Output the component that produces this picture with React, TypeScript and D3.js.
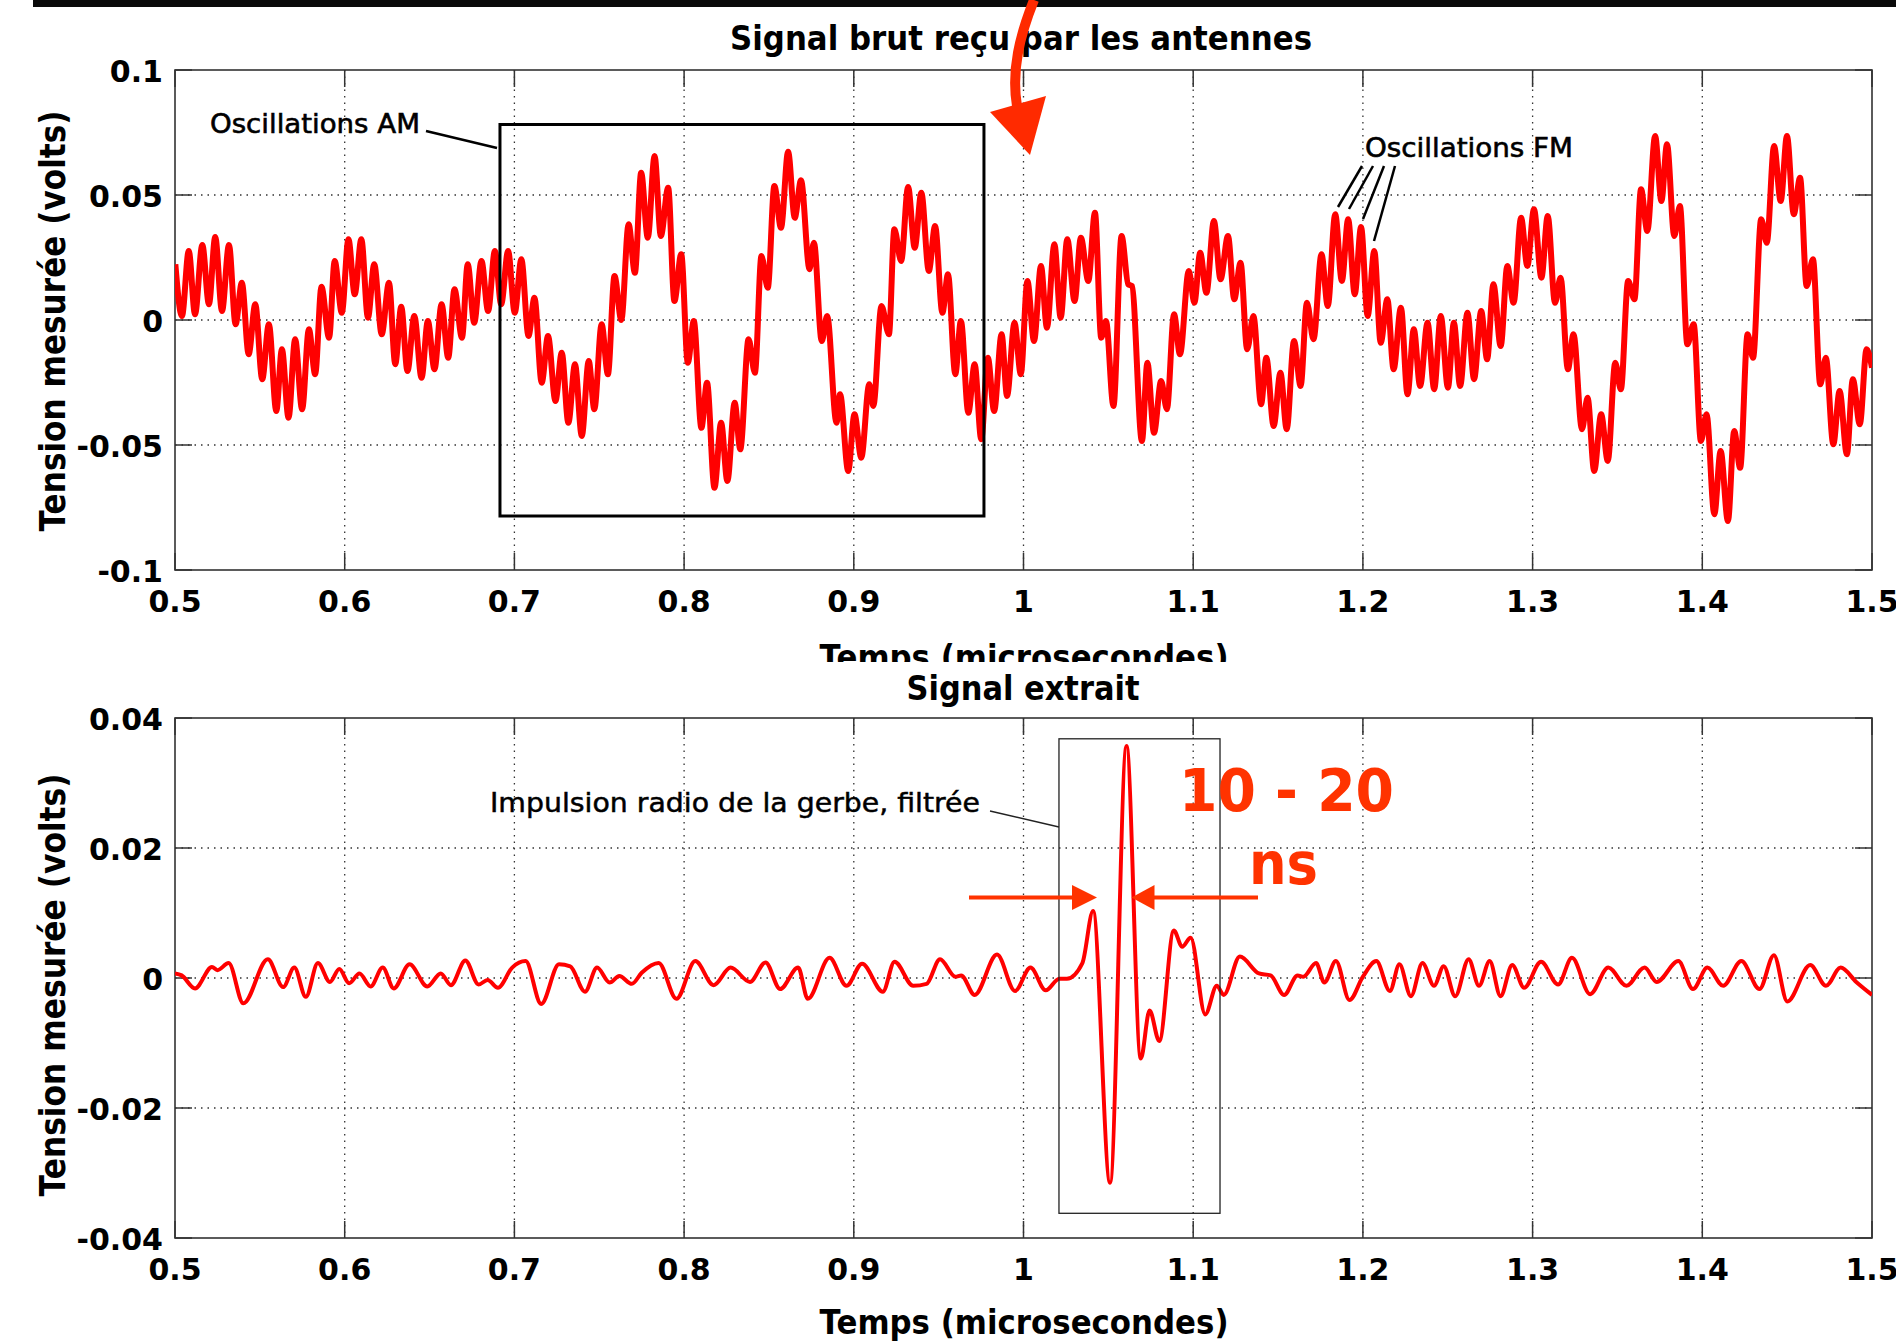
import React from 'react';
import * as d3 from 'd3';

// ---------- data ----------
const xTicks = [0.5, 0.6, 0.7, 0.8, 0.9, 1.0, 1.1, 1.2, 1.3, 1.4, 1.5];
const xTickLabels = ['0.5', '0.6', '0.7', '0.8', '0.9', '1', '1.1', '1.2', '1.3', '1.4', '1.5'];
const rawYTicks = [-0.1, -0.05, 0, 0.05, 0.1];
const rawYTickLabels = ['-0.1', '-0.05', '0', '0.05', '0.1'];
const extYTicks = [-0.04, -0.02, 0, 0.02, 0.04];
const extYTickLabels = ['-0.04', '-0.02', '0', '0.02', '0.04'];

// raw signal received by the antennas (time in µs, volts) — local extrema
const rawSignal: [number, number][] = [
  [0.5002, 0.0223], [0.5041, 0.0016], [0.5081, 0.0276], [0.5118, 0.0023], [0.5161, 0.0300], [0.5200, 0.0063],
  [0.5237, 0.0332], [0.5277, 0.0036], [0.5318, 0.0300], [0.5357, -0.0017], [0.5394, 0.0149], [0.5434, -0.0137],
  [0.5473, 0.0063], [0.5514, -0.0237], [0.5553, -0.0017], [0.5597, -0.0364], [0.5630, -0.0117], [0.5669, -0.0391],
  [0.5708, -0.0077], [0.5749, -0.0357], [0.5789, -0.0037], [0.5826, -0.0217], [0.5863, 0.0133], [0.5908, -0.0071],
  [0.5941, 0.0236], [0.5983, 0.0029], [0.6022, 0.0323], [0.6059, 0.0103], [0.6098, 0.0323], [0.6137, 0.0009],
  [0.6174, 0.0223], [0.6218, -0.0057], [0.6261, 0.0149], [0.6298, -0.0177], [0.6333, 0.0053], [0.6370, -0.0204],
  [0.6410, 0.0016], [0.6453, -0.0231], [0.6490, -0.0004], [0.6529, -0.0197], [0.6571, 0.0063], [0.6610, -0.0151],
  [0.6647, 0.0123], [0.6691, -0.0071], [0.6725, 0.0223], [0.6763, -0.0011], [0.6806, 0.0236], [0.6845, 0.0036],
  [0.6885, 0.0276], [0.6922, 0.0063], [0.6963, 0.0276], [0.7002, 0.0029], [0.7041, 0.0243], [0.7083, -0.0064],
  [0.7118, 0.0089], [0.7161, -0.0251], [0.7198, -0.0064], [0.7242, -0.0324], [0.7279, -0.0131], [0.7318, -0.0411],
  [0.7357, -0.0177], [0.7397, -0.0464], [0.7438, -0.0164], [0.7471, -0.0357], [0.7514, -0.0017], [0.7551, -0.0217],
  [0.7590, 0.0176], [0.7630, 0.0000], [0.7673, 0.0383], [0.7710, 0.0189], [0.7747, 0.0589], [0.7786, 0.0329],
  [0.7826, 0.0656], [0.7863, 0.0336], [0.7906, 0.0529], [0.7943, 0.0076], [0.7983, 0.0263], [0.8022, -0.0171],
  [0.8057, -0.0004], [0.8102, -0.0431], [0.8135, -0.0251], [0.8179, -0.0671], [0.8218, -0.0411], [0.8255, -0.0644],
  [0.8298, -0.0331], [0.8331, -0.0517], [0.8380, -0.0077], [0.8417, -0.0211], [0.8456, 0.0256], [0.8493, 0.0129],
  [0.8532, 0.0536], [0.8571, 0.0369], [0.8613, 0.0673], [0.8652, 0.0409], [0.8689, 0.0559], [0.8739, 0.0203],
  [0.8765, 0.0309], [0.8811, -0.0084], [0.8843, 0.0016], [0.8898, -0.0411], [0.8919, -0.0297], [0.8967, -0.0604],
  [0.9004, -0.0377], [0.9044, -0.0551], [0.9091, -0.0257], [0.9115, -0.0344], [0.9163, 0.0056], [0.9207, -0.0057],
  [0.9239, 0.0363], [0.9279, 0.0236], [0.9320, 0.0532], [0.9359, 0.0289], [0.9398, 0.0509], [0.9442, 0.0196],
  [0.9479, 0.0376], [0.9522, 0.0029], [0.9555, 0.0183], [0.9598, -0.0217], [0.9631, -0.0004], [0.9675, -0.0371],
  [0.9712, -0.0177], [0.9751, -0.0477], [0.9790, -0.0151], [0.9827, -0.0364], [0.9871, -0.0057], [0.9903, -0.0304],
  [0.9947, -0.0011], [0.9984, -0.0217], [1.0023, 0.0156], [1.0062, -0.0084], [1.0103, 0.0216], [1.0138, -0.0031],
  [1.0182, 0.0303], [1.0219, 0.0009], [1.0258, 0.0323], [1.0301, 0.0076], [1.0338, 0.0329], [1.0382, 0.0156],
  [1.0421, 0.0429], [1.0458, -0.0071], [1.0486, -0.0004], [1.0530, -0.0344], [1.0578, 0.0336], [1.0617, 0.0143],
  [1.0639, 0.0136], [1.0698, -0.0484], [1.0730, -0.0171], [1.0769, -0.0451], [1.0811, -0.0244], [1.0845, -0.0357],
  [1.0887, 0.0023], [1.0922, -0.0137], [1.0974, 0.0196], [1.1007, 0.0069], [1.1041, 0.0269], [1.1078, 0.0109],
  [1.1122, 0.0396], [1.1161, 0.0163], [1.1205, 0.0336], [1.1242, 0.0083], [1.1279, 0.0229], [1.1318, -0.0117],
  [1.1355, 0.0016], [1.1400, -0.0337], [1.1431, -0.0151], [1.1474, -0.0424], [1.1514, -0.0211], [1.1551, -0.0437],
  [1.1594, -0.0084], [1.1633, -0.0264], [1.1670, 0.0069], [1.1709, -0.0077], [1.1756, 0.0263], [1.1793, 0.0056],
  [1.1837, 0.0423], [1.1876, 0.0156], [1.1913, 0.0403], [1.1952, 0.0103], [1.1989, 0.0372], [1.2028, 0.0016],
  [1.2067, 0.0276], [1.2105, -0.0091], [1.2144, 0.0083], [1.2181, -0.0197], [1.2224, 0.0049], [1.2263, -0.0297],
  [1.2300, -0.0037], [1.2337, -0.0264], [1.2381, -0.0011], [1.2420, -0.0277], [1.2459, 0.0016], [1.2501, -0.0271],
  [1.2536, -0.0011], [1.2573, -0.0264], [1.2616, 0.0029], [1.2655, -0.0237], [1.2697, 0.0036], [1.2732, -0.0157],
  [1.2769, 0.0143], [1.2812, -0.0104], [1.2851, 0.0216], [1.2888, 0.0069], [1.2932, 0.0409], [1.2969, 0.0216],
  [1.3008, 0.0443], [1.3052, 0.0169], [1.3089, 0.0416], [1.3132, 0.0069], [1.3165, 0.0169], [1.3208, -0.0197],
  [1.3241, -0.0057], [1.3291, -0.0437], [1.3324, -0.0311], [1.3363, -0.0604], [1.3404, -0.0377], [1.3443, -0.0564],
  [1.3487, -0.0171], [1.3520, -0.0277], [1.3563, 0.0156], [1.3600, 0.0083], [1.3639, 0.0523], [1.3676, 0.0356],
  [1.3722, 0.0736], [1.3759, 0.0476], [1.3792, 0.0703], [1.3835, 0.0336], [1.3868, 0.0456], [1.3912, -0.0097],
  [1.3949, -0.0017], [1.3992, -0.0484], [1.4025, -0.0377], [1.4071, -0.0777], [1.4108, -0.0524], [1.4151, -0.0804],
  [1.4188, -0.0444], [1.4223, -0.0591], [1.4267, -0.0057], [1.4299, -0.0151], [1.4347, 0.0403], [1.4380, 0.0309],
  [1.4423, 0.0696], [1.4462, 0.0476], [1.4499, 0.0736], [1.4539, 0.0423], [1.4576, 0.0569], [1.4615, 0.0136],
  [1.4652, 0.0243], [1.4695, -0.0257], [1.4728, -0.0151], [1.4772, -0.0497], [1.4809, -0.0284], [1.4852, -0.0537],
  [1.4887, -0.0237], [1.4928, -0.0417], [1.4968, -0.0117], [1.5000, -0.0191],
];

// extracted (filtered) signal
const extractedSignal: [number, number][] = [
  [0.5000, 0.0007], [0.5039, 0.0004], [0.5118, -0.0016], [0.5218, 0.0017], [0.5250, 0.0012], [0.5316, 0.0023],
  [0.5403, -0.0039], [0.5547, 0.0029], [0.5637, -0.0014], [0.5703, 0.0016], [0.5771, -0.0029], [0.5842, 0.0023],
  [0.5913, -0.0006], [0.5968, 0.0014], [0.6026, -0.0008], [0.6087, 0.0007], [0.6153, -0.0013], [0.6224, 0.0016],
  [0.6289, -0.0016], [0.6382, 0.0021], [0.6487, -0.0013], [0.6566, 0.0007], [0.6626, -0.0011], [0.6711, 0.0027],
  [0.6789, -0.0010], [0.6842, -0.0003], [0.6903, -0.0015], [0.6987, 0.0016], [0.7066, 0.0026], [0.7158, -0.0040],
  [0.7263, 0.0021], [0.7329, 0.0018], [0.7416, -0.0021], [0.7487, 0.0016], [0.7561, -0.0007], [0.7618, 0.0003],
  [0.7692, -0.0009], [0.7750, 0.0008], [0.7850, 0.0023], [0.7955, -0.0032], [0.8066, 0.0026], [0.8174, -0.0011],
  [0.8274, 0.0016], [0.8388, -0.0006], [0.8480, 0.0024], [0.8566, -0.0017], [0.8672, 0.0016], [0.8729, -0.0032],
  [0.8857, 0.0031], [0.8957, -0.0012], [0.9049, 0.0022], [0.9171, -0.0021], [0.9240, 0.0025], [0.9350, -0.0012],
  [0.9429, -0.0009], [0.9508, 0.0029], [0.9599, 0.0002], [0.9633, 0.0004], [0.9712, -0.0026], [0.9844, 0.0036],
  [0.9950, -0.0020], [1.0041, 0.0016], [1.0131, -0.0019], [1.0211, -0.0001], [1.0256, -0.0001], [1.0347, 0.0023],
  [1.0410, 0.0103], [1.0510, -0.0315], [1.0607, 0.0357], [1.0691, -0.0124], [1.0743, -0.0050], [1.0800, -0.0097],
  [1.0886, 0.0073], [1.0935, 0.0048], [1.0985, 0.0062], [1.1071, -0.0056], [1.1139, -0.0012], [1.1180, -0.0026],
  [1.1275, 0.0033], [1.1388, 0.0007], [1.1456, 0.0004], [1.1536, -0.0026], [1.1615, 0.0004], [1.1649, 0.0002],
  [1.1724, 0.0023], [1.1773, -0.0007], [1.1841, 0.0026], [1.1921, -0.0034], [1.2000, 0.0002], [1.2079, 0.0026],
  [1.2159, -0.0020], [1.2215, 0.0021], [1.2283, -0.0028], [1.2351, 0.0023], [1.2419, -0.0012], [1.2476, 0.0018],
  [1.2544, -0.0028], [1.2623, 0.0029], [1.2684, -0.0012], [1.2747, 0.0026], [1.2811, -0.0028], [1.2880, 0.0020],
  [1.2950, -0.0015], [1.3050, 0.0025], [1.3150, -0.0010], [1.3232, 0.0031], [1.3339, -0.0025], [1.3446, 0.0016],
  [1.3553, -0.0012], [1.3660, 0.0016], [1.3731, -0.0006], [1.3859, 0.0026], [1.3945, -0.0017], [1.4030, 0.0016],
  [1.4123, -0.0012], [1.4230, 0.0026], [1.4337, -0.0017], [1.4422, 0.0035], [1.4501, -0.0036], [1.4636, 0.0020],
  [1.4729, -0.0012], [1.4815, 0.0016], [1.4907, -0.0006], [1.5000, -0.0026],
];

// annotation regions (data coordinates)
const amBox = [0.6915, 0.9767, -0.0784, 0.0782];
const pulseBox = [1.0209, 1.1158, -0.0362, 0.0368];

// ---------- layout ----------
const W = 1896;
const H = 1343;
const FONT = "'DejaVu Sans', Verdana, sans-serif";
const RED = '#ff0000';
const ANNOT_RED = '#ff3300';

const x = d3.scaleLinear().domain([0.5, 1.5]).range([175, 1872]);
const yRaw = d3.scaleLinear().domain([-0.1, 0.1]).range([570, 70]);
const yExt = d3.scaleLinear().domain([-0.04, 0.04]).range([1238, 718]);

type PanelProps = {
  y: d3.ScaleLinear<number, number>;
  yTicks: number[];
  yLabels: string[];
  data: [number, number][];
  lineWidth: number;
};

function Panel({ y, yTicks, yLabels, data, lineWidth }: PanelProps) {
  const [x0, x1] = x.range();
  const [yb, yt] = y.range();
  const tickLen = 17;
  const line = d3
    .line<[number, number]>()
    .x((d) => x(d[0]))
    .y((d) => y(d[1]))
    .curve(d3.curveMonotoneX);
  const clipId = `clip-${Math.round(yt)}`;
  return (
    <g>
      <defs>
        <clipPath id={clipId}>
          <rect x={x0} y={yt} width={x1 - x0} height={yb - yt} />
        </clipPath>
      </defs>
      {/* grid */}
      <g stroke="#333" strokeWidth={1.3} strokeDasharray="1.5 5">
        {xTicks.slice(1, -1).map((t) => (
          <line key={'gx' + t} x1={x(t)} x2={x(t)} y1={yt} y2={yb} />
        ))}
        {yTicks.slice(1, -1).map((v) => (
          <line key={'gy' + v} x1={x0} x2={x1} y1={y(v)} y2={y(v)} />
        ))}
      </g>
      {/* ticks inside on all four sides */}
      <g stroke="#333" strokeWidth={1.5}>
        {xTicks.map((t) => (
          <g key={'tx' + t}>
            <line x1={x(t)} x2={x(t)} y1={yb} y2={yb - tickLen} />
            <line x1={x(t)} x2={x(t)} y1={yt} y2={yt + tickLen} />
          </g>
        ))}
        {yTicks.map((v) => (
          <g key={'ty' + v}>
            <line x1={x0} x2={x0 + tickLen} y1={y(v)} y2={y(v)} />
            <line x1={x1} x2={x1 - tickLen} y1={y(v)} y2={y(v)} />
          </g>
        ))}
      </g>
      <rect x={x0} y={yt} width={x1 - x0} height={yb - yt} fill="none" stroke="#333" strokeWidth={1.6} />
      {/* signal */}
      <path
        d={line(data) || ''}
        fill="none"
        stroke={RED}
        strokeWidth={lineWidth}
        strokeLinejoin="round"
        clipPath={`url(#${clipId})`}
      />
      {/* tick labels */}
      <g fontFamily={FONT} fontWeight="bold" fontSize={30} fill="#000">
        {xTicks.map((t, i) => (
          <text key={'lx' + t} x={x(t)} y={yb + 42} textAnchor="middle">
            {xTickLabels[i]}
          </text>
        ))}
        {yTicks.map((v, i) => (
          <text key={'ly' + v} x={x0 - 12} y={y(v) + 12} textAnchor="end">
            {yLabels[i]}
          </text>
        ))}
      </g>
    </g>
  );
}

export default function App() {
  const amX0 = x(amBox[0]);
  const amX1 = x(amBox[1]);
  const amY0 = yRaw(amBox[3]);
  const amY1 = yRaw(amBox[2]);
  const pX0 = x(pulseBox[0]);
  const pX1 = x(pulseBox[1]);
  const pY0 = yExt(pulseBox[3]);
  const pY1 = yExt(pulseBox[2]);
  return (
    <svg
      width={W}
      height={H}
      viewBox={`0 0 ${W} ${H}`}
      style={{ position: 'absolute', left: 0, top: 0, display: 'block', background: '#fff' }}
    >
      <rect x={0} y={0} width={W} height={H} fill="#fff" />
      <defs>
        <clipPath id="topLabelClip">
          <rect x={0} y={0} width={W} height={662} />
        </clipPath>
      </defs>

      {/* black bar at the very top */}
      <rect x={33} y={0} width={W - 33} height={7} fill="#0a0a0a" />

      {/* ---------- top panel ---------- */}
      <text
        x={1021}
        y={50}
        textAnchor="middle"
        fontFamily={FONT}
        fontWeight="bold"
        fontSize={33}
        textLength={582}
        lengthAdjust="spacingAndGlyphs"
      >
        Signal brut reçu par les antennes
      </text>
      <Panel y={yRaw} yTicks={rawYTicks} yLabels={rawYTickLabels} data={rawSignal} lineWidth={6} />
      <text
        transform={`translate(65, 321) rotate(-90)`}
        textAnchor="middle"
        fontFamily={FONT}
        fontWeight="bold"
        fontSize={35}
        textLength={421}
        lengthAdjust="spacingAndGlyphs"
      >
        Tension mesurée (volts)
      </text>
      <text
        x={1024}
        y={669}
        textAnchor="middle"
        fontFamily={FONT}
        fontWeight="bold"
        fontSize={34}
        textLength={409}
        lengthAdjust="spacingAndGlyphs"
        clipPath="url(#topLabelClip)"
      >
        Temps (microsecondes)
      </text>

      {/* AM annotation */}
      <rect x={amX0} y={amY0} width={amX1 - amX0} height={amY1 - amY0} fill="none" stroke="#000" strokeWidth={3} />
      <line x1={426} y1={131} x2={497} y2={148} stroke="#000" strokeWidth={2.5} />
      <text
        x={210}
        y={133}
        fontFamily={FONT}
        fontSize={27}
        stroke="#000"
        strokeWidth={0.6}
        textLength={210}
        lengthAdjust="spacingAndGlyphs"
      >
        Oscillations AM
      </text>

      {/* FM annotation */}
      <text
        x={1365}
        y={157}
        fontFamily={FONT}
        fontSize={26}
        stroke="#000"
        strokeWidth={0.6}
        textLength={208}
        lengthAdjust="spacingAndGlyphs"
      >
        Oscillations FM
      </text>
      <g stroke="#000" strokeWidth={2.5}>
        <line x1={1362} y1={166} x2={1338} y2={207} />
        <line x1={1373} y1={166} x2={1349} y2={209} />
        <line x1={1384} y1={166} x2={1363} y2={219} />
        <line x1={1395} y1={166} x2={1374} y2={241} />
      </g>

      {/* ---------- bottom panel ---------- */}
      <text
        x={1023}
        y={700}
        textAnchor="middle"
        fontFamily={FONT}
        fontWeight="bold"
        fontSize={33}
        textLength={233}
        lengthAdjust="spacingAndGlyphs"
      >
        Signal extrait
      </text>
      <Panel y={yExt} yTicks={extYTicks} yLabels={extYTickLabels} data={extractedSignal} lineWidth={4} />
      <text
        transform={`translate(65, 985) rotate(-90)`}
        textAnchor="middle"
        fontFamily={FONT}
        fontWeight="bold"
        fontSize={35}
        textLength={423}
        lengthAdjust="spacingAndGlyphs"
      >
        Tension mesurée (volts)
      </text>
      <text
        x={1024}
        y={1334}
        textAnchor="middle"
        fontFamily={FONT}
        fontWeight="bold"
        fontSize={34}
        textLength={409}
        lengthAdjust="spacingAndGlyphs"
      >
        Temps (microsecondes)
      </text>

      {/* pulse annotation */}
      <rect x={pX0} y={pY0} width={pX1 - pX0} height={pY1 - pY0} fill="none" stroke="#222" strokeWidth={1.3} />
      <line x1={990} y1={811} x2={pX0} y2={827} stroke="#222" strokeWidth={1.3} />
      <text
        x={490}
        y={812}
        fontFamily={FONT}
        fontSize={27}
        stroke="#000"
        strokeWidth={0.5}
        textLength={490}
        lengthAdjust="spacingAndGlyphs"
      >
        Impulsion radio de la gerbe, filtrée
      </text>

      {/* red duration annotation */}
      <text
        x={1179}
        y={811}
        fontFamily={FONT}
        fontWeight="bold"
        fontSize={58}
        fill={ANNOT_RED}
        textLength={215}
        lengthAdjust="spacingAndGlyphs"
      >
        10 - 20
      </text>
      <text
        x={1249}
        y={884}
        fontFamily={FONT}
        fontWeight="bold"
        fontSize={58}
        fill={ANNOT_RED}
        textLength={69}
        lengthAdjust="spacingAndGlyphs"
      >
        ns
      </text>
      <g stroke={ANNOT_RED} strokeWidth={4} fill={ANNOT_RED}>
        <line x1={969} y1={897.5} x2={1074} y2={897.5} />
        <polygon points="1097,897.5 1072,885 1072,910" stroke="none" />
        <line x1={1258} y1={897.5} x2={1153} y2={897.5} />
        <polygon points="1131.5,897.5 1154.5,885 1154.5,910" stroke="none" />
      </g>

      {/* red curved arrow at the top */}
      <path d="M1034,0 C1020,35 1011,70 1017,106" fill="none" stroke="#ff2a00" strokeWidth={10} />
      <polygon points="990,112 1046,96 1030,155" fill="#ff2a00" />
    </svg>
  );
}
